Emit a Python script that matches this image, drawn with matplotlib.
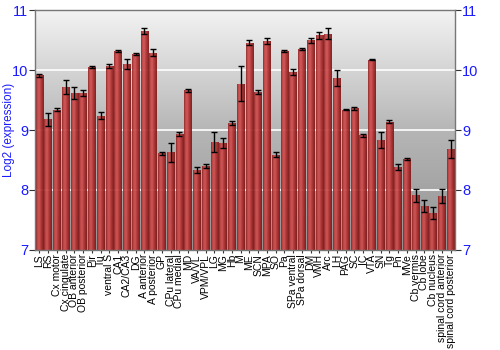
import numpy as np
import matplotlib
matplotlib.use("Agg")
import matplotlib.pyplot as plt
from matplotlib.colors import LinearSegmentedColormap

plt.rcParams["font.family"] = ["Liberation Sans", "DejaVu Sans"]

categories = ["LS", "RS", "Cx motor", "Cx cingulate", "OB anterior", "OB posterior", "Pir", "Tu",
              "ventral S", "CA1", "CA2/CA3", "DG", "A anterior", "A posterior", "GP", "CPu lateral",
              "CPu medial", "MD", "VA/VL", "VPM/VPL", "LG", "MG", "Hb", "M", "ME", "SCN", "MPA", "SO",
              "Pa", "SPa ventral", "SPa dorsal", "DM", "VMH", "Arc", "LH", "PAG", "SC", "IC", "VTA",
              "SN", "Tg", "Pn", "MVe", "Cb vermis", "Cb lobe", "Cb nucleus", "spinal cord anterior",
              "spinal cord posterior"]
values = [9.91, 9.18, 9.34, 9.72, 9.62, 9.61, 10.05, 9.24,
          10.07, 10.32, 10.10, 10.27, 10.65, 10.29, 8.61, 8.63,
          8.93, 9.66, 8.34, 8.40, 8.80, 8.78, 9.12, 9.77, 10.46, 9.63, 10.49, 8.59,
          10.32, 9.97, 10.35, 10.50, 10.58, 10.61, 9.87, 9.34, 9.36, 8.91, 10.17,
          8.83, 9.14, 8.39, 8.52, 7.91, 7.73, 7.62, 7.90, 8.69]
errors = [0.03, 0.11, 0.02, 0.12, 0.10, 0.05, 0.01, 0.06,
          0.03, 0.02, 0.08, 0.01, 0.05, 0.06, 0.02, 0.16,
          0.03, 0.03, 0.05, 0.04, 0.17, 0.08, 0.03, 0.29, 0.04, 0.03, 0.05, 0.04,
          0.01, 0.05, 0.02, 0.04, 0.06, 0.09, 0.13, 0.01, 0.02, 0.03, 0.01,
          0.13, 0.02, 0.05, 0.02, 0.11, 0.10, 0.10, 0.12, 0.15]
yticks = [7, 8, 9, 10, 11]

BLUE = "#1a1aff"

fig = plt.figure(figsize=(5, 3.5), dpi=100)
ax = fig.add_axes([0.07, 0.286, 0.84, 0.685])
ax.set_xlim(-0.5, len(categories) - 0.5)
ax.set_ylim(7, 11)

# background gradient
bg = LinearSegmentedColormap.from_list("bg", ["#929292", "#b6b6b6", "#f3f3f3"])
grad = np.linspace(0, 1, 256).reshape(-1, 1)
ax.imshow(grad, cmap=bg, aspect="auto", extent=[0, 1, 0, 1], transform=ax.transAxes,
          origin="lower", zorder=0)

for t in [8, 9, 10]:
    ax.axhline(t, color="white", lw=1.2, zorder=1)

x = np.arange(len(categories))
bars = ax.bar(x, np.array(values) - 7, bottom=7, width=0.88, color="#b03030", zorder=2,
              linewidth=0)

barcm = LinearSegmentedColormap.from_list(
    "bar", ["#8e2020", "#c84444", "#cf5050", "#b63434", "#9a2424", "#7a1616"])
hgrad = np.linspace(0, 1, 64).reshape(1, -1)
for b in bars:
    bb = b.get_bbox()
    im = ax.imshow(hgrad, cmap=barcm, aspect="auto",
                   extent=[bb.x0, bb.x1, bb.y0, bb.y1], zorder=2, alpha=0.93)
    im.set_clip_path(b)
    b.set_facecolor("none")

ax.errorbar(x, values, yerr=errors, fmt="none", ecolor="black", elinewidth=1,
            capsize=2.2, capthick=1, zorder=3)

ax.set_xlim(-0.5, len(categories) - 0.5)
ax.set_ylim(7, 11)
ax.set_xticks(x)
ax.set_xticklabels(categories, rotation=90, fontsize=7.5)
ax.tick_params(axis="x", length=2, pad=1, colors="#333333", labelcolor="black")
ax.set_yticks(yticks)
ax.tick_params(axis="y", left=True, right=True, labelleft=True, labelright=True,
               labelsize=10.5, labelcolor=BLUE, color="#333333", length=4, pad=1)
ax.set_ylabel("Log2 (expression)", color=BLUE, fontsize=8.5, va="center")
ax.yaxis.set_label_coords(-0.062, 0.5)

for s in ax.spines.values():
    s.set_color("#777777")
    s.set_linewidth(1)

fig.savefig("out.png", dpi=100)
